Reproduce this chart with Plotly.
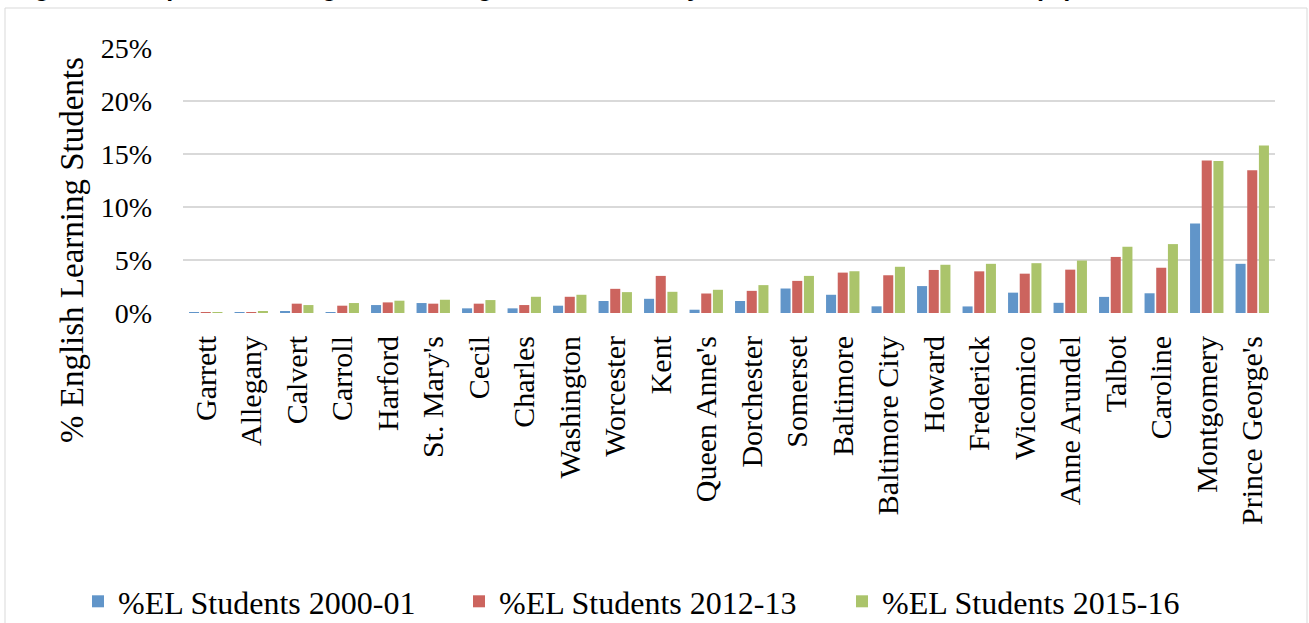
import plotly.graph_objects as go

# Maryland school systems, ordered by 2015-16 share of English Learners
districts = ["Garrett", "Allegany", "Calvert", "Carroll", "Harford", "St. Mary's",
             "Cecil", "Charles", "Washington", "Worcester", "Kent", "Queen Anne's",
             "Dorchester", "Somerset", "Baltimore", "Baltimore City", "Howard",
             "Frederick", "Wicomico", "Anne Arundel", "Talbot", "Caroline",
             "Montgomery", "Prince George's"]

el_2000_01 = [0.01, 0.03, 0.16, 0.03, 0.75, 0.94, 0.44, 0.44, 0.69, 1.13, 1.34, 0.31,
              1.13, 2.31, 1.72, 0.63, 2.54, 0.62, 1.92, 0.96, 1.52, 1.86, 8.45, 4.64]
el_2012_13 = [0.01, 0.02, 0.88, 0.69, 1.00, 0.88, 0.88, 0.75, 1.53, 2.28, 3.50, 1.84,
              2.09, 3.03, 3.81, 3.56, 4.06, 3.93, 3.71, 4.09, 5.29, 4.27, 14.39, 13.46]
el_2015_16 = [0.02, 0.12, 0.75, 0.94, 1.16, 1.25, 1.22, 1.53, 1.72, 1.97, 2.00, 2.19,
              2.63, 3.50, 3.94, 4.36, 4.55, 4.64, 4.70, 4.95, 6.25, 6.50, 14.33, 15.80]

series_names = ["%EL Students 2000-01", "%EL Students 2012-13", "%EL Students 2015-16"]
y_tick_values = [0, 5, 10, 15, 20, 25]
y_tick_labels = ["0%", "5%", "10%", "15%", "20%", "25%"]

W, H = 1309, 623
L, R, T, B = 183, 34, 48, 310
PW, PH = W - L - R, H - T - B


def px(x):
    return (x - L) / PW


def py(y):
    return (H - B - y) / PH


colors = ["#6195C9", "#CC645E", "#ABC46B"]
legend_ids = ["legend", "legend2", "legend3"]

fig = go.Figure()
for vals, name, col, lg in zip([el_2000_01, el_2012_13, el_2015_16],
                               series_names, colors, legend_ids):
    fig.add_trace(go.Bar(x=districts, y=vals, name=name, legend=lg,
                         marker=dict(color=col, line=dict(width=0))))

serif = "Liberation Serif"
legend_style = dict(orientation="h", yanchor="top", xanchor="left",
                    font=dict(family=serif, size=32, color="#000000"),
                    bgcolor="rgba(0,0,0,0)", itemwidth=30)

fig.update_layout(
    width=W, height=H,
    margin=dict(l=L, r=R, t=T, b=B, autoexpand=False),
    paper_bgcolor="white", plot_bgcolor="white",
    barmode="group", bargap=0.23, bargroupgap=0.14,
    xaxis=dict(tickangle=-90, tickfont=dict(family=serif, size=30, color="#000000"),
               showgrid=False, showline=False, ticks="", ticklabelstandoff=16,
               automargin=False),
    yaxis=dict(range=[0, 25], tickmode="array", tickvals=y_tick_values,
               ticktext=y_tick_labels,
               tickfont=dict(family=serif, size=28, color="#000000"),
               showgrid=True, gridcolor="#D9D9D9", gridwidth=2,
               zeroline=False, showline=False, ticks="", ticklabelstandoff=30,
               automargin=False),
    legend=dict(legend_style, x=px(78), y=py(574)),
    legend2=dict(legend_style, x=px(459), y=py(574)),
    legend3=dict(legend_style, x=px(842), y=py(574)),
    showlegend=True,
    annotations=[
        dict(text="% English Learning Students", textangle=-90,
             xref="paper", yref="paper", x=px(72), y=py(250),
             xanchor="center", yanchor="middle", showarrow=False,
             font=dict(family=serif, size=33, color="#000000")),
        dict(text="<b>Figure 4: Proportion of English Learning Students in Maryland and Selected Counties (%)</b>",
             xref="paper", yref="paper", x=px(1075), y=py(3),
             xanchor="right", yanchor="bottom", showarrow=False,
             font=dict(family="Liberation Sans", size=25, color="#000000")),
    ],
    shapes=[
        dict(type="rect", xref="paper", yref="paper",
             x0=px(5), x1=px(1307), y0=py(640), y1=py(8),
             line=dict(color="#D9D9D9", width=1), fillcolor="rgba(0,0,0,0)",
             layer="below"),
    ],
)

fig.write_html("out.html")
